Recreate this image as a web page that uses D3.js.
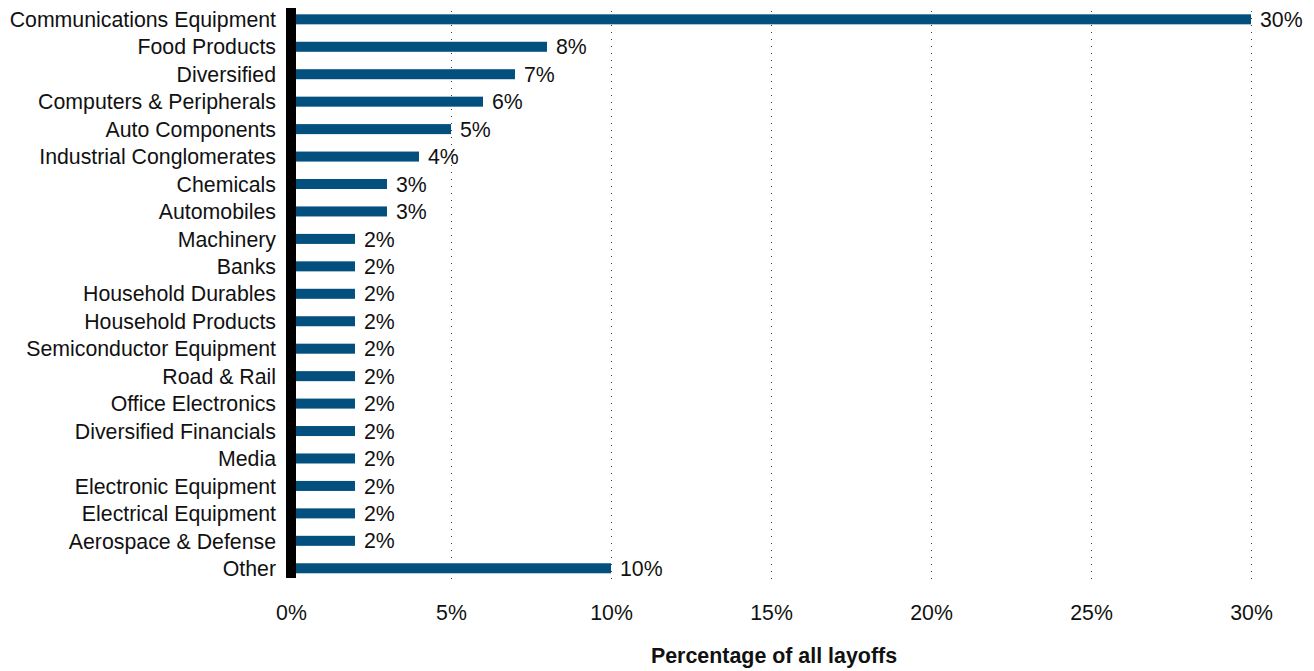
<!DOCTYPE html>
<html>
<head>
<meta charset="utf-8">
<script src="https://cdn.jsdelivr.net/npm/d3@7"></script>
<style>
  body { margin: 0; background: #fff; }
  text { font-family: "Liberation Sans", Arial, Helvetica, sans-serif; fill: #111; }
  .axis .domain { display: none; }
  .gridline .domain { display: none; }
  .gridline line { stroke: #444; stroke-dasharray: 1, 6; }
</style>
</head>
<body>
<div id="chartContainer"></div>
<script>
const categories = [
    'Communications Equipment', 'Food Products', 'Diversified', 'Computers & Peripherals',
    'Auto Components', 'Industrial Conglomerates', 'Chemicals', 'Automobiles', 'Machinery',
    'Banks', 'Household Durables', 'Household Products', 'Semiconductor Equipment',
    'Road & Rail', 'Office Electronics', 'Diversified Financials', 'Media',
    'Electronic Equipment', 'Electrical Equipment', 'Aerospace & Defense', 'Other'
];
const shares = [30, 8, 7, 6, 5, 4, 3, 3, 2, 2, 2, 2, 2, 2, 2, 2, 2, 2, 2, 2, 10];
const xTicks = [0, 5, 10, 15, 20, 25, 30];
const axisTitle = 'Percentage of all layoffs';

const data = categories.map((c, i) => ({ type: c, share: shares[i] }));

const width = 1314;
const height = 671;
const fontSize = 21.3;

const svg = d3.select('#chartContainer')
    .append('svg')
    .attr('width', width)
    .attr('height', height);

// scales
const xScale = d3.scaleLinear()
    .domain([0, 30])
    .range([291, 1251]);
const yScale = d3.scaleBand()
    .domain(categories)
    .range([5.6, 582])
    .paddingInner(0.635)
    .paddingOuter(0.3175);

// dotted gridlines
const xGridlines = d3.axisBottom()
    .scale(xScale)
    .tickValues(xTicks.slice(1))
    .tickSize(-570)
    .tickFormat('');

svg.append('g')
    .classed('gridline', true)
    .attr('transform', 'translate(0,579)')
    .call(xGridlines);

svg.selectAll('.bar')
    .data(data)
    .enter()
    .append('rect')
    .classed('bar', true)
    .attr('x', xScale(0))
    .attr('y', d => yScale(d.type))
    .attr('width', d => xScale(d.share) - xScale(0))
    .attr('height', yScale.bandwidth())
    .style('fill', '#03507f');

svg.selectAll('.bar-label')
    .data(data)
    .enter()
    .append('text')
    .classed('bar-label', true)
    .attr('x', d => xScale(d.share) + 9)
    .attr('y', d => yScale(d.type) + yScale.bandwidth() / 2)
    .attr('dy', '0.36em')
    .style('font-size', fontSize + 'px')
    .text(d => d.share + '%');

// thick black baseline
svg.append('rect')
    .attr('x', xScale(0) - 5)
    .attr('y', 8)
    .attr('width', 10)
    .attr('height', 570)
    .style('fill', '#000');

// category labels
const yAxis = d3.axisLeft()
    .scale(yScale)
    .tickSize(0)
    .tickPadding(15);

svg.append('g')
    .classed('y axis', true)
    .attr('transform', `translate(${xScale(0)},0)`)
    .call(yAxis)
    .selectAll('text')
    .attr('dy', '0.36em')
    .style('font-size', fontSize + 'px')
    .style('font-family', '"Liberation Sans", Arial, sans-serif')
    .attr('fill', '#111');

const xAxis = d3.axisBottom()
    .scale(xScale)
    .tickValues(xTicks)
    .tickSize(0)
    .tickPadding(0)
    .tickFormat(d => d + '%');

svg.append('g')
    .classed('x axis', true)
    .attr('transform', 'translate(0,620)')
    .call(xAxis)
    .selectAll('text')
    .attr('dy', 0)
    .style('font-size', fontSize + 'px')
    .style('font-family', '"Liberation Sans", Arial, sans-serif')
    .attr('fill', '#111');

svg.append('text')
    .attr('x', (xScale(0) + xScale(30)) / 2 + 3)
    .attr('y', 663)
    .style('font-size', '21.4px')
    .style('font-weight', 'bold')
    .style('text-anchor', 'middle')
    .text(axisTitle);
</script>
</body>
</html>
